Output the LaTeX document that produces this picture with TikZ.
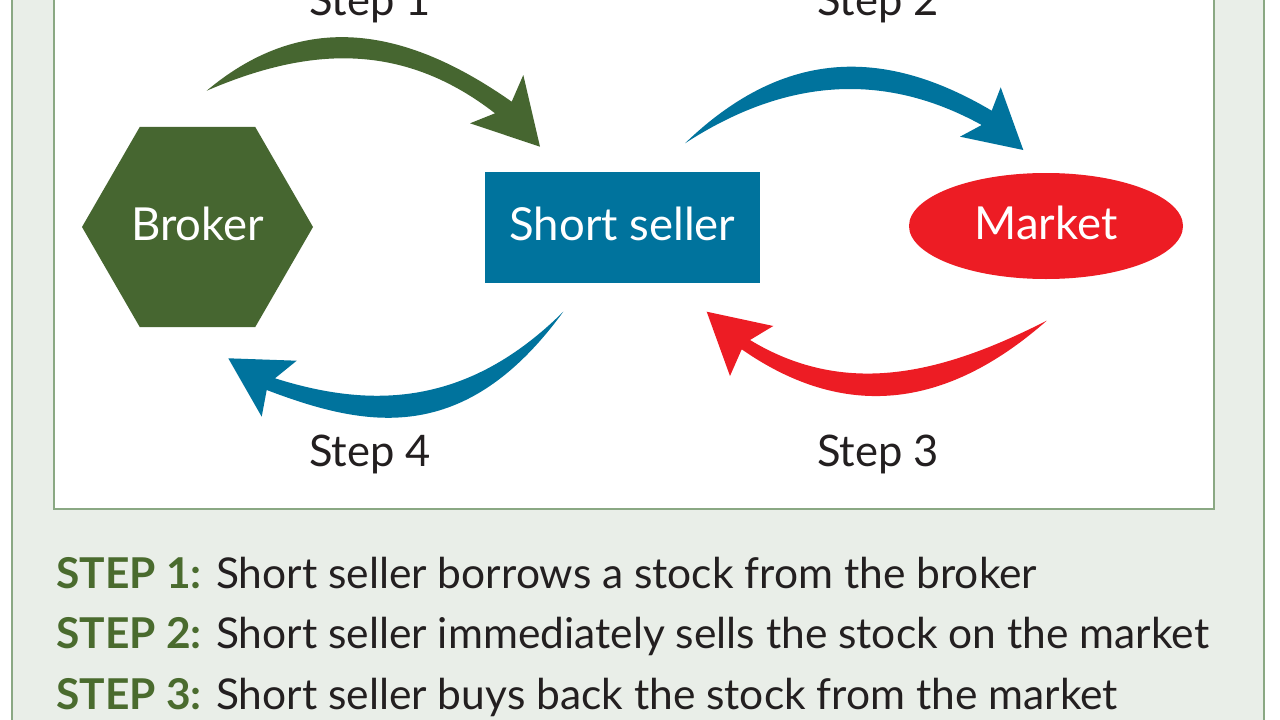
\documentclass[tikz,border=0pt]{standalone}
\usepackage{fontspec}
\setmainfont{Lato}
\usetikzlibrary{shapes.geometric}
\definecolor{bggreen}{HTML}{E9EEE8}
\definecolor{framegreen}{HTML}{8AA883}
\definecolor{brokergreen}{HTML}{466630}
\definecolor{sellerblue}{HTML}{00739D}
\definecolor{marketred}{HTML}{ED1C24}
\definecolor{stepgreen}{HTML}{4A6B2E}
\definecolor{textdark}{HTML}{231F20}
\begin{document}
\begin{tikzpicture}[x=1pt,y=-1pt,
  shapebox/.style={font=\fontsize{45.5pt}{52pt}\selectfont, text=white, inner sep=0pt, text height=32pt, text depth=6pt},
  steplabel/.style={font=\fontsize{43.5pt}{50pt}\selectfont, text=textdark, inner sep=0pt, anchor=base},
  explain/.style={font=\fontsize{42.5pt}{50pt}\selectfont, text=textdark, inner sep=0pt, anchor=base west}
]
\useasboundingbox (0,0) rectangle (1280,720);
\fill[white] (0,0) rectangle (1280,720);
\fill[bggreen] (12,-20) rectangle (1264,740);
\draw[framegreen, line width=2pt] (12,-20) -- (12,740);
\draw[framegreen, line width=2pt] (1264,-20) -- (1264,740);
\draw[framegreen, line width=2pt, fill=white] (54,-20) rectangle (1214,509);

% nodes
\node[shapebox, regular polygon, regular polygon sides=6, minimum size=231pt, fill=brokergreen] (broker) at (197.5,227) {Broker};
\node[shapebox, rectangle, minimum width=275pt, minimum height=111pt, fill=sellerblue] (seller) at (622.5,227.5) {Short seller};
\node[shapebox, ellipse, minimum width=274pt, minimum height=106pt, fill=marketred] (market) at (1046,226) {Market};

% step 1 arrow (green)
\fill[brokergreen] (206.7,90.7) .. controls (307.3,6.2) and (410.5,30.7) .. (511.7,101.7)
  -- (523.3,75) -- (540,146.7) -- (470,123.3) -- (495,113.3)
  .. controls (398.9,38.6) and (303.3,49.2) .. (206.7,90.7) -- cycle;

% step 2 arrow (blue)
\fill[sellerblue] (685,143.3) .. controls (787.2,44.8) and (888.4,49.6) .. (991.7,110.7)
  -- (1000.7,87.3) -- (1023.3,150) -- (960,136.7) -- (981.7,125)
  .. controls (882.7,70.5) and (784.2,78.9) .. (685,143.3) -- cycle;

% step 3 arrow (red)
\fill[marketred] (1046.7,320.7) .. controls (947.8,370.8) and (848.9,400) .. (750,340)
  -- (773.3,326) -- (706.7,311.7) -- (730,376) -- (741.7,349.3)
  .. controls (843.5,420.2) and (944.9,410.3) .. (1046.7,320.7) -- cycle;

% step 4 arrow (blue)
\fill[sellerblue] (563.3,311.7) .. controls (467.2,407.1) and (371.1,408.6) .. (275,378.3)
  -- (296.7,360.7) -- (228.3,358.3) -- (261.7,416.7) -- (266.7,390)
  .. controls (365.7,427.6) and (464.3,447.4) .. (563.3,311.7) -- cycle;

% step labels
\node[steplabel] (s1) at (370,15) {Step 1};
\node[steplabel] (s2) at (878,15) {Step 2};
\node[steplabel] (s3) at (878,466) {Step 3};
\node[steplabel] (s4) at (370,466) {Step 4};

% explanation
\node[explain] (l1) at (56,588) {\textcolor{stepgreen}{\textbf{STEP 1:}} Short seller borrows a stock from the broker};
\node[explain] (l2) at (56,648) {\textcolor{stepgreen}{\textbf{STEP 2:}} Short seller immediately sells the stock on the market};
\node[explain] (l3) at (56,709) {\textcolor{stepgreen}{\textbf{STEP 3:}} Short seller buys back the stock from the market};
\end{tikzpicture}
\end{document}
